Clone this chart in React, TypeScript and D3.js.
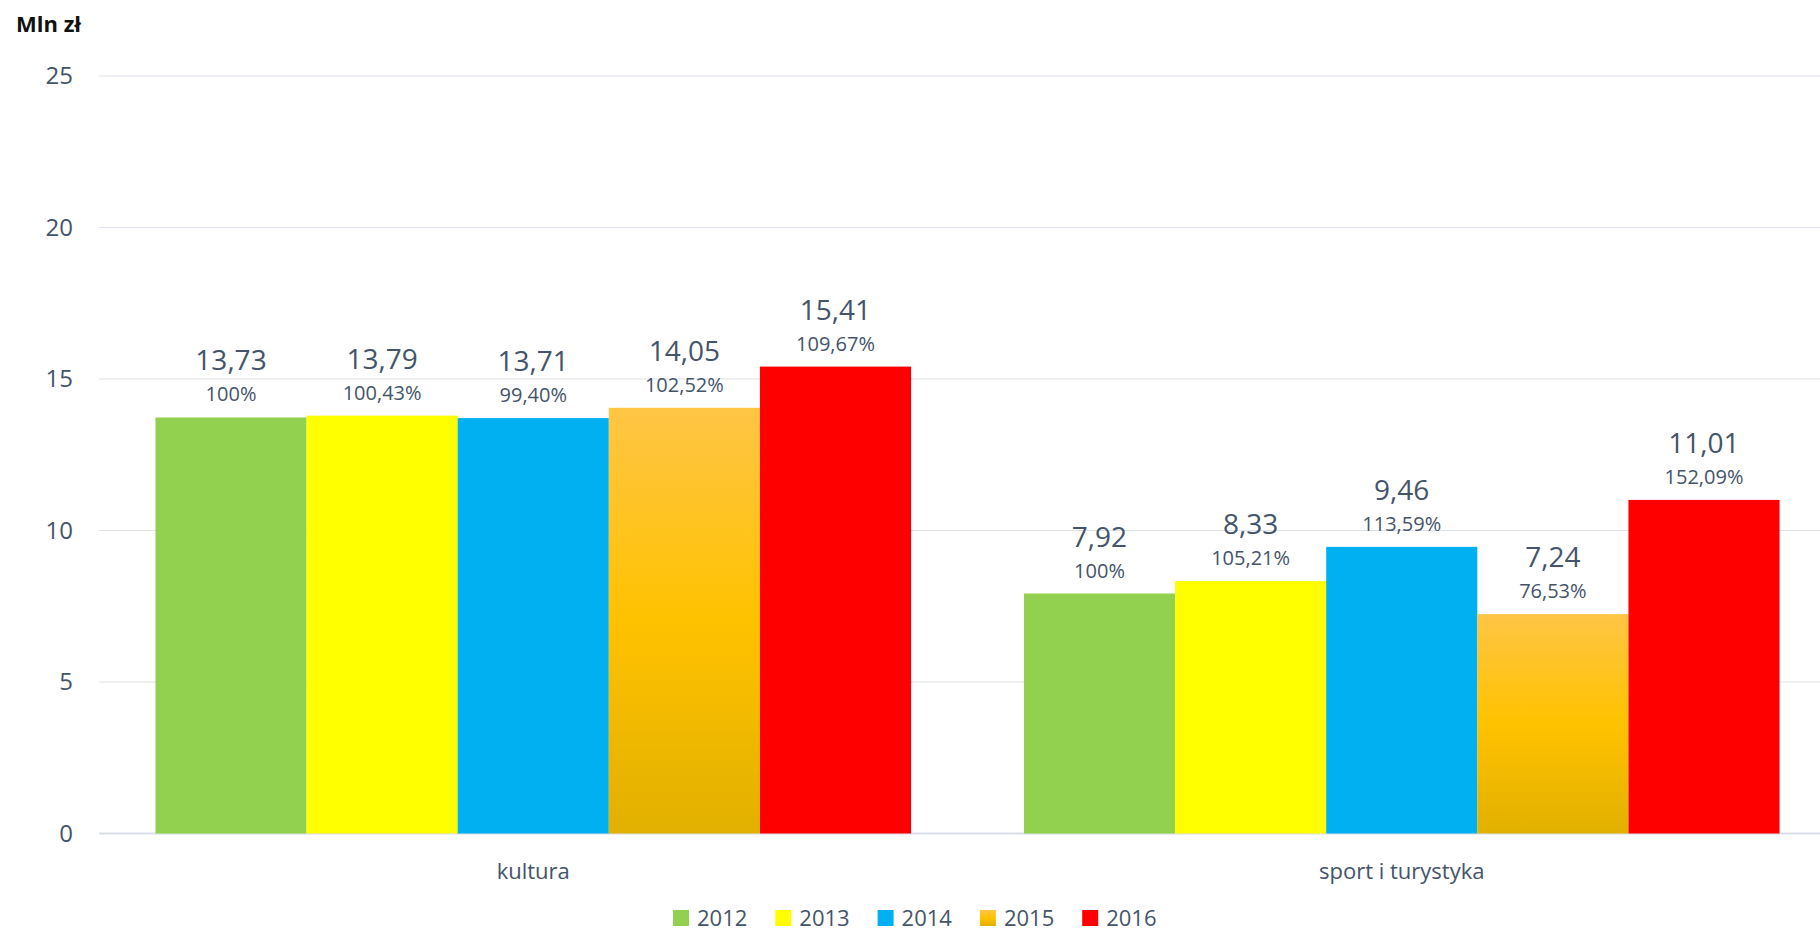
import React from "react";
import * as d3 from "d3";

const categories = ["kultura", "sport i turystyka"];
const years = ["2012", "2013", "2014", "2015", "2016"];
const kulturaValues = [13.73, 13.79, 13.71, 14.05, 15.41];
const sportValues = [7.92, 8.33, 9.46, 7.24, 11.01];
const kulturaPct = ["100%", "100,43%", "99,40%", "102,52%", "109,67%"];
const sportPct = ["100%", "105,21%", "113,59%", "76,53%", "152,09%"];
const yTicks = [0, 5, 10, 15, 20, 25];

const yearColors = ["#92D050", "#FFFF00", "#00B0F0", "url(#grad2015)", "#FF0000"];
const legendColors = ["#92D050", "#FFFF00", "#00B0F0", "url(#grad2015)", "#FF0000"];

const W = 1820, H = 931;
const textColor = "#44546A";
const font = "'Open Sans', sans-serif";

const rows = [
    { cat: categories[0], values: kulturaValues, pct: kulturaPct },
    { cat: categories[1], values: sportValues, pct: sportPct },
];

const fmt = (v: number) => d3.format(".2f")(v).replace(".", ",");

const App = () => {
    const y = d3.scaleLinear().domain([0, 25]).range([833.5, 76]);
    const x0 = d3.scaleBand().domain(categories).range([99, 1836]).paddingInner(0.13).paddingOuter(0.065);
    const x1 = d3.scaleBand().domain(years).range([0, x0.bandwidth()]).padding(0);

    return (
        <svg width={W} height={H} style={{ position: "absolute", left: 0, top: 0, display: "block" }} fontFamily={font}>
            <defs>
                <linearGradient id="grad2015" x1="0" y1="0" x2="0" y2="1">
                    <stop offset="0%" stopColor="#FFC545" />
                    <stop offset="50%" stopColor="#FFC200" />
                    <stop offset="100%" stopColor="#E2B000" />
                </linearGradient>
            </defs>
            <rect width={W} height={H} fill="#fff" />
            <text x={16} y={32} fontSize={22} fontWeight="bold" fill="#111">Mln zł</text>

            {yTicks.map(t => (
                <g key={t}>
                    <line x1={99} x2={W} y1={y(t)} y2={y(t)} stroke={t === 0 ? "#D9DEE7" : "#DEE2EA"} strokeWidth={t === 0 ? 2 : 1.2} />
                    <text x={73} y={y(t)} dy="0.35em" textAnchor="end" fontSize={24} fill={textColor}>{t}</text>
                </g>
            ))}

            {rows.map(r => (
                <g key={r.cat} transform={`translate(${x0(r.cat)},0)`}>
                    {r.values.map((v, i) => {
                        const bx = x1(years[i])!;
                        const bw = x1.bandwidth();
                        const cx = bx + bw / 2;
                        return (
                            <g key={years[i]}>
                                <rect x={bx} y={y(v)} width={bw} height={y(0) - y(v)} fill={yearColors[i]} />
                                <text x={cx} y={y(v) - 47} textAnchor="middle" fontSize={28} fill={textColor}>{fmt(v)}</text>
                                <text x={cx} y={y(v) - 16} textAnchor="middle" fontSize={20} fill={textColor}>{r.pct[i]}</text>
                            </g>
                        );
                    })}
                    <text x={x0.bandwidth() / 2} y={879} textAnchor="middle" fontSize={22} fill={textColor}>{r.cat}</text>
                </g>
            ))}

            <g transform="translate(673,910)">
                {years.map((yr, i) => (
                    <g key={yr} transform={`translate(${i * 102.3},0)`}>
                        <rect x={0} y={0} width={16} height={16} fill={legendColors[i]} />
                        <text x={24} y={8} dy="0.35em" fontSize={22} fill={textColor}>{yr}</text>
                    </g>
                ))}
            </g>
        </svg>
    );
};

export default App;
